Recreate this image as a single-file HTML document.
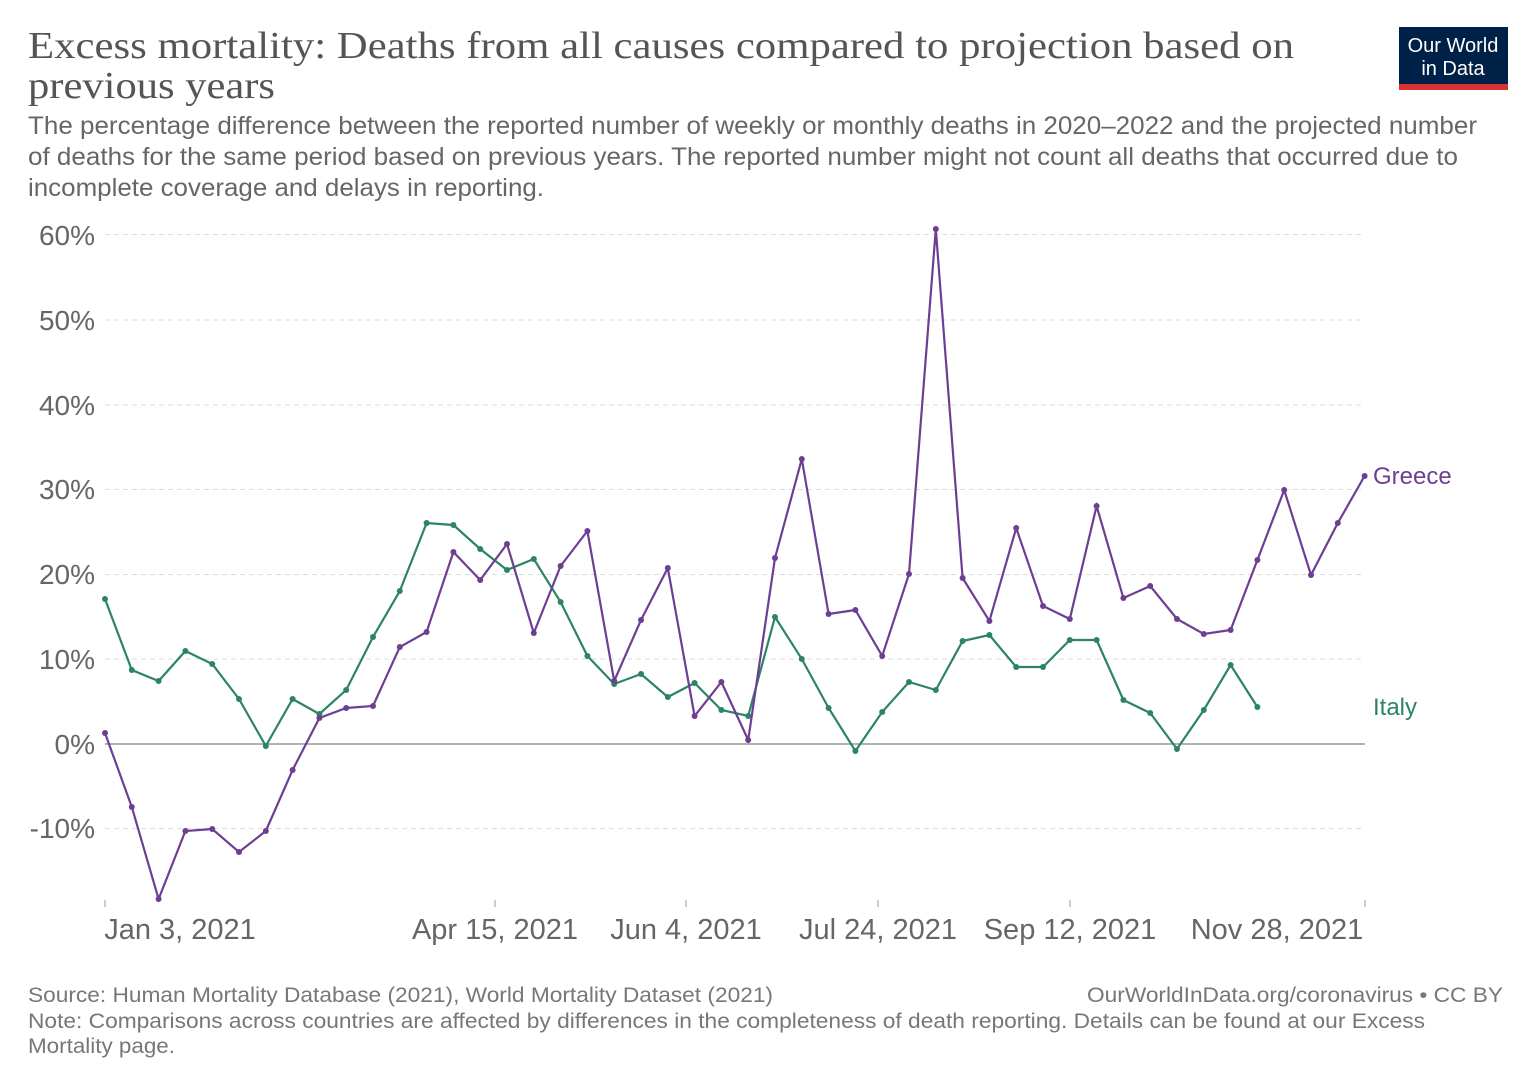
<!DOCTYPE html>
<html><head><meta charset="utf-8"><style>
body{margin:0;background:#fff;font-family:"Liberation Sans",sans-serif}
</style></head><body>
<svg width="1536" height="1085" xmlns="http://www.w3.org/2000/svg" font-family="Liberation Sans, sans-serif">
<rect width="1536" height="1085" fill="#fff"/>
<text x="28" y="58" font-family="Liberation Serif, serif" font-size="38" fill="#555" textLength="1266" lengthAdjust="spacingAndGlyphs">Excess mortality: Deaths from all causes compared to projection based on</text>
<text x="28" y="98" font-family="Liberation Serif, serif" font-size="38" fill="#555" textLength="247" lengthAdjust="spacingAndGlyphs">previous years</text>
<rect x="1399" y="27" width="109" height="62" fill="#002147"/>
<rect x="1399" y="84" width="109" height="6" fill="#dc3131"/>
<text x="1453" y="52" font-size="20" fill="#fff" text-anchor="middle">Our World</text>
<text x="1453" y="75" font-size="20" fill="#fff" text-anchor="middle">in Data</text>
<g font-size="25" fill="#666">
<text x="28" y="134" textLength="1449" lengthAdjust="spacingAndGlyphs">The percentage difference between the reported number of weekly or monthly deaths in 2020–2022 and the projected number</text>
<text x="28" y="165" textLength="1430" lengthAdjust="spacingAndGlyphs">of deaths for the same period based on previous years. The reported number might not count all deaths that occurred due to</text>
<text x="28" y="196" textLength="516" lengthAdjust="spacingAndGlyphs">incomplete coverage and delays in reporting.</text>
</g>
<g stroke="#ddd" stroke-dasharray="5,4" stroke-width="1">
<line x1="105" x2="1365" y1="234.5" y2="234.5"/><line x1="105" x2="1365" y1="320" y2="320"/>
<line x1="105" x2="1365" y1="405" y2="405"/><line x1="105" x2="1365" y1="489.5" y2="489.5"/>
<line x1="105" x2="1365" y1="574.5" y2="574.5"/><line x1="105" x2="1365" y1="659" y2="659"/>
<line x1="105" x2="1365" y1="828.5" y2="828.5"/>
</g>
<line x1="105" x2="1365" y1="744" y2="744" stroke="#999" stroke-width="1.5"/>
<g font-size="28" fill="#666" text-anchor="end">
<text x="95" y="245">60%</text><text x="95" y="330">50%</text><text x="95" y="415">40%</text>
<text x="95" y="499">30%</text><text x="95" y="584">20%</text><text x="95" y="669">10%</text>
<text x="95" y="754">0%</text><text x="95" y="838">-10%</text>
</g>
<g stroke="#999"><line x1="105" x2="105" y1="900" y2="907"/><line x1="495" x2="495" y1="900" y2="907"/><line x1="686" x2="686" y1="900" y2="907"/><line x1="878" x2="878" y1="900" y2="907"/><line x1="1070" x2="1070" y1="900" y2="907"/><line x1="1365" x2="1365" y1="900" y2="907"/></g>
<g font-size="29" fill="#666" text-anchor="middle">
<text x="180" y="939">Jan 3, 2021</text><text x="495" y="939">Apr 15, 2021</text><text x="686" y="939">Jun 4, 2021</text>
<text x="878" y="939">Jul 24, 2021</text><text x="1070" y="939">Sep 12, 2021</text><text x="1277" y="939">Nov 28, 2021</text>
</g>
<g id="lines"></g>
<text x="1373" y="484" font-size="24" fill="#6d3e91">Greece</text>
<text x="1373" y="715" font-size="24" fill="#2c8465">Italy</text>
<g font-size="21" fill="#777">
<text x="28" y="1002" textLength="745" lengthAdjust="spacingAndGlyphs">Source: Human Mortality Database (2021), World Mortality Dataset (2021)</text>
<text x="1087" y="1002" textLength="416" lengthAdjust="spacingAndGlyphs">OurWorldInData.org/coronavirus • CC BY</text>
<text x="28" y="1028" textLength="1397" lengthAdjust="spacingAndGlyphs">Note: Comparisons across countries are affected by differences in the completeness of death reporting. Details can be found at our Excess</text>
<text x="28" y="1053" textLength="147" lengthAdjust="spacingAndGlyphs">Mortality page.</text>
</g>
</svg>
<script>
var g=[733,807,899,831,829,852,831,770,718,708,706,647,632,552,580,544,633,566,531,681,620,568,716,682,740,558,459,614,610,656,574,229,578,621,528,606,619,506,598,586,619,634,630,560,490,575,523,476];
var it=[599,670,681,651,664,699,746,699,714,690,637,591,523,525,549,570,559,602,656,684,674,697,683,710,716,617,659,708,751,712,682,690,641,635,667,667,640,640,700,713,749,710,665,707];
var ns="http://www.w3.org/2000/svg",L=document.getElementById("lines");
function draw(a,c){var p=a.map(function(y,i){return (105+i*26.8).toFixed(1)+","+y}).join(" ");
var pl=document.createElementNS(ns,"polyline");pl.setAttribute("points",p);pl.setAttribute("fill","none");pl.setAttribute("stroke",c);pl.setAttribute("stroke-width","2.2");L.appendChild(pl);
a.forEach(function(y,i){var ci=document.createElementNS(ns,"circle");ci.setAttribute("cx",105+i*26.8);ci.setAttribute("cy",y);ci.setAttribute("r","3");ci.setAttribute("fill",c);L.appendChild(ci);});}
draw(it,"#2c8465");draw(g,"#6d3e91");
</script>
</body></html>
